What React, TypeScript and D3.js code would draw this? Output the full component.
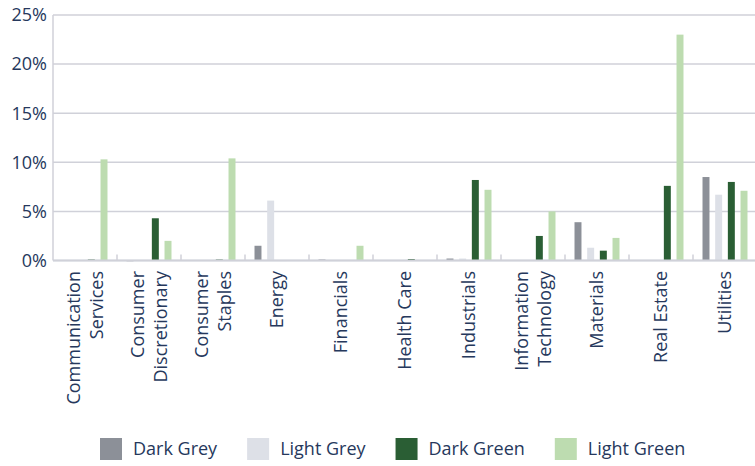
import React, { useEffect, useRef } from "react";
import * as d3 from "d3";

const categories = [
  "Communication Services",
  "Consumer Discretionary",
  "Consumer Staples",
  "Energy",
  "Financials",
  "Health Care",
  "Industrials",
  "Information Technology",
  "Materials",
  "Real Estate",
  "Utilities",
];

// label lines for the rotated category names
const categoryLines = [
  ["Communication", "Services"],
  ["Consumer", "Discretionary"],
  ["Consumer", "Staples"],
  ["Energy"],
  ["Financials"],
  ["Health Care"],
  ["Industrials"],
  ["Information", "Technology"],
  ["Materials"],
  ["Real Estate"],
  ["Utilities"],
];

const seriesNames = ["Dark Grey", "Light Grey", "Dark Green", "Light Green"];
const seriesColors = ["#8c9098", "#dde0e7", "#2a5e34", "#bddcb0"];

// values in percent
const darkGrey = [0, 0.03, 0, 1.5, 0.1, 0, 0.2, 0, 3.9, 0, 8.5];
const lightGrey = [0, 0, 0, 6.1, 0, 0, 0.2, 0, 1.3, 0, 6.7];
const darkGreen = [0.1, 4.3, 0.1, 0.05, 0, 0.15, 8.2, 2.5, 1.0, 7.6, 8.0];
const lightGreen = [10.3, 2.0, 10.4, 0.05, 1.5, 0, 7.2, 5.0, 2.3, 23.0, 7.1];

const yTicks = [0, 5, 10, 15, 20, 25];

const textColor = "#26385c";
const gridColor = "#d0d1d9";
const font = "'Open Sans', 'Noto Sans', sans-serif";

const App = () => {
  const ref = useRef<SVGSVGElement>(null);

  useEffect(() => {
    const svg = d3.select(ref.current);
    svg.selectAll("*").remove();

    const width = 755;
    const left = 53;
    const top = 15;
    const bottom = 260.5;

    const allSeries = [darkGrey, lightGrey, darkGreen, lightGreen];

    const x0 = d3.scaleBand().domain(categories).range([left, width + 2]).padding(0);
    const x1 = d3
      .scaleBand()
      .domain(seriesNames)
      .range([0, x0.bandwidth()])
      .paddingInner(0.45)
      .paddingOuter(0.75);
    const y = d3.scaleLinear().domain([0, 25]).range([bottom, top]);

    // gridlines
    svg
      .append("g")
      .selectAll("line")
      .data(yTicks)
      .join("line")
      .attr("x1", left)
      .attr("x2", width)
      .attr("y1", (d) => y(d))
      .attr("y2", (d) => y(d))
      .attr("stroke", gridColor)
      .attr("stroke-width", 1.5);

    // left axis line
    svg
      .append("line")
      .attr("x1", left)
      .attr("x2", left)
      .attr("y1", top)
      .attr("y2", bottom)
      .attr("stroke", gridColor)
      .attr("stroke-width", 1.5);

    // y labels
    svg
      .append("g")
      .selectAll("text")
      .data(yTicks)
      .join("text")
      .attr("x", left - 6)
      .attr("y", (d) => y(d))
      .attr("dy", "0.35em")
      .attr("text-anchor", "end")
      .attr("font-family", font)
      .attr("font-size", 18)
      .attr("fill", textColor)
      .text((d) => `${d}%`);

    // bars
    const rows = categories.flatMap((c, i) =>
      seriesNames.map((s, j) => ({ c, s, v: allSeries[j][i], color: seriesColors[j] }))
    );
    svg
      .append("g")
      .selectAll("rect")
      .data(rows.filter((d) => d.v > 0))
      .join("rect")
      .attr("x", (d) => x0(d.c)! + x1(d.s)!)
      .attr("y", (d) => y(d.v))
      .attr("width", x1.bandwidth())
      .attr("height", (d) => Math.max(1, bottom - y(d.v)))
      .attr("fill", (d) => d.color);

    // bottom axis + ticks between categories
    svg
      .append("line")
      .attr("x1", left)
      .attr("x2", width)
      .attr("y1", bottom)
      .attr("y2", bottom)
      .attr("stroke", gridColor)
      .attr("stroke-width", 2);

    svg
      .append("g")
      .selectAll("line")
      .data(categories.slice(1))
      .join("line")
      .attr("x1", (d) => x0(d)!)
      .attr("x2", (d) => x0(d)!)
      .attr("y1", bottom - 6)
      .attr("y2", bottom)
      .attr("stroke", gridColor)
      .attr("stroke-width", 1.5);

    // category labels, rotated
    const lineH = 23;
    const labels = svg
      .append("g")
      .selectAll("g")
      .data(categories)
      .join("g")
      .attr("transform", (d) => `translate(${x0(d)! + x0.bandwidth() / 2},271) rotate(-90)`);
    labels.each(function (d, i) {
      const lines = categoryLines[i];
      const g = d3.select(this);
      lines.forEach((line, k) => {
        g.append("text")
          .attr("x", 0)
          .attr("y", (k - (lines.length - 1) / 2) * lineH)
          .attr("dy", "0.35em")
          .attr("text-anchor", "end")
          .attr("font-family", font)
          .attr("font-size", 18)
          .attr("fill", textColor)
          .text(line);
      });
    });

    // legend
    const legend = svg.append("g");
    let lx = 100;
    seriesNames.forEach((name, i) => {
      legend
        .append("rect")
        .attr("x", lx)
        .attr("y", 438)
        .attr("width", 22)
        .attr("height", 22)
        .attr("fill", seriesColors[i]);
      const t = legend
        .append("text")
        .attr("x", lx + 33)
        .attr("y", 449)
        .attr("dy", "0.35em")
        .attr("font-family", font)
        .attr("font-size", 18)
        .attr("fill", textColor)
        .text(name);
      const w = (t.node() as SVGTextElement).getComputedTextLength();
      lx += 33 + w + 30;
    });
  }, []);

  return (
    <svg
      ref={ref}
      width={755}
      height={466}
      viewBox="0 0 755 466"
      style={{ position: "absolute", left: 0, top: 0, background: "#fff" }}
    />
  );
};

export default App;
